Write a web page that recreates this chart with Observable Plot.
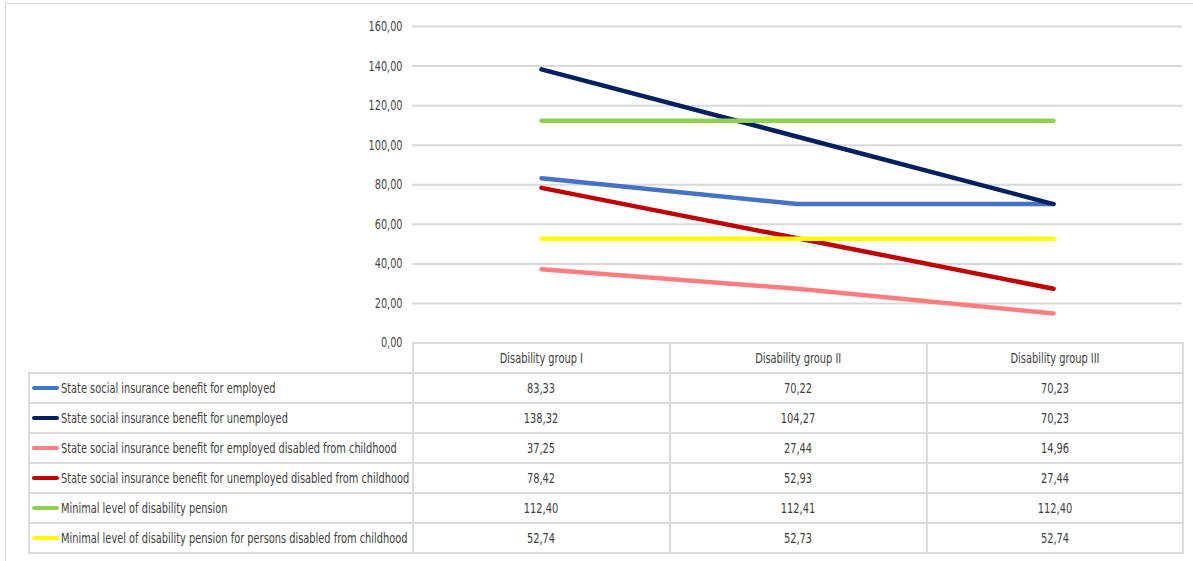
<!DOCTYPE html>
<html><head><meta charset="utf-8">
<script src="https://cdn.jsdelivr.net/npm/d3@7"></script>
<script src="https://cdn.jsdelivr.net/npm/@observablehq/plot@0.6"></script>
<style>
body{margin:0;background:#fff;font-family:"Liberation Sans Narrow","DejaVu Sans Condensed",sans-serif;}
#wrap{position:relative;width:1193px;height:561px;overflow:hidden;}
#frame{position:absolute;left:5px;top:3px;width:1200px;height:600px;border:1.5px solid #d9d9d9;box-sizing:border-box;}
#chart{position:absolute;left:0;top:0;}
table{position:absolute;left:28px;top:342px;border-collapse:collapse;table-layout:fixed;font-size:14px;color:#404040;}
td{border:2px solid #dcdcdc;height:30px;padding:0;text-align:center;box-sizing:border-box;white-space:nowrap;overflow:hidden;}
td.leg{text-align:left;padding-left:2px;}
td.blank{border-top:none;border-left:none;}
.key{display:inline-block;width:27px;height:4px;border-radius:2px;vertical-align:middle;margin-right:2px;position:relative;top:-1px;}
.t{display:inline-block;transform:scaleX(0.78);transform-origin:center center;}
td.leg .t{transform-origin:left center;}
</style></head>
<body>
<div id="wrap"><div id="frame"></div><div id="chart"></div><div id="tbl"></div></div>
<script>
const groups = ["Disability group I", "Disability group II", "Disability group III"];
const seriesNames = [
  "State social insurance benefit for employed",
  "State social insurance benefit for unemployed",
  "State social insurance benefit for employed disabled from childhood",
  "State social insurance benefit for unemployed disabled from childhood",
  "Minimal level of disability pension",
  "Minimal level of disability pension for persons disabled from childhood"
];
const seriesColors = ["#4472C4", "#002060", "#FF7C80", "#C00000", "#92D050", "#FFFF00"];
const employed = [83.33, 70.22, 70.23];
const unemployed = [138.32, 104.27, 70.23];
const employedChild = [37.25, 27.44, 14.96];
const unemployedChild = [78.42, 52.93, 27.44];
const minPension = [112.40, 112.41, 112.40];
const minPensionChild = [52.74, 52.73, 52.74];
const yTicks = [0, 20, 40, 60, 80, 100, 120, 140, 160];

const seriesValues = [employed, unemployed, employedChild, unemployedChild, minPension, minPensionChild];
const fmt = v => d3.format(".2f")(v).replace(".", ",");

const rows = [];
seriesNames.forEach((s, i) => groups.forEach((g, j) => rows.push({series: s, group: g, value: seriesValues[i][j]})));

const font = '"Liberation Sans Narrow","DejaVu Sans Condensed",sans-serif';
const chart = Plot.plot({
  width: 1193, height: 561,
  marginLeft: 412, marginRight: 11, marginTop: 26, marginBottom: 218.5,
  x: {type: "point", domain: groups, padding: 0.5, axis: null},
  y: {domain: [0, 160], axis: null},
  color: {domain: seriesNames, range: seriesColors},
  style: {fontFamily: font, fontSize: "14px", color: "#4a4a4a", background: "transparent"},
  marks: [
    Plot.ruleY(yTicks, {stroke: "#d9d9d9", strokeWidth: 2}),
    Plot.axisY({ticks: yTicks, tickSize: 0, tickPadding: 10, tickFormat: fmt, fill: "#4a4a4a", label: null}),
    Plot.line(rows, {x: "group", y: "value", z: "series", stroke: "series", strokeWidth: 4.5})
  ]
});
document.getElementById("chart").appendChild(chart);

// condense the y tick labels horizontally around their right-aligned anchor
d3.select(chart).selectAll('g[aria-label="y-axis tick label"] text').each(function() {
  const x = +this.getAttribute("x") || 0;
  const tr = this.getAttribute("transform") || "";
  this.setAttribute("transform", `${tr} translate(${x},0) scale(0.77,1) translate(${-x},0)`);
});

// data table
const colW = [384, 257, 257, 256];
const table = d3.select("#tbl").append("table").style("width", d3.sum(colW) + "px");
const cg = table.append("colgroup");
colW.forEach(w => cg.append("col").style("width", w + "px"));
const head = table.append("tr");
head.append("td").attr("class", "blank");
groups.forEach(g => head.append("td").append("span").attr("class", "t").text(g));
seriesNames.forEach((s, i) => {
  const tr = table.append("tr");
  const lc = tr.append("td").attr("class", "leg");
  lc.append("span").attr("class", "key").style("background", seriesColors[i]);
  lc.append("span").attr("class", "t").text(s);
  seriesValues[i].forEach(v => tr.append("td").append("span").attr("class", "t").text(fmt(v)));
});
</script>
</body></html>
